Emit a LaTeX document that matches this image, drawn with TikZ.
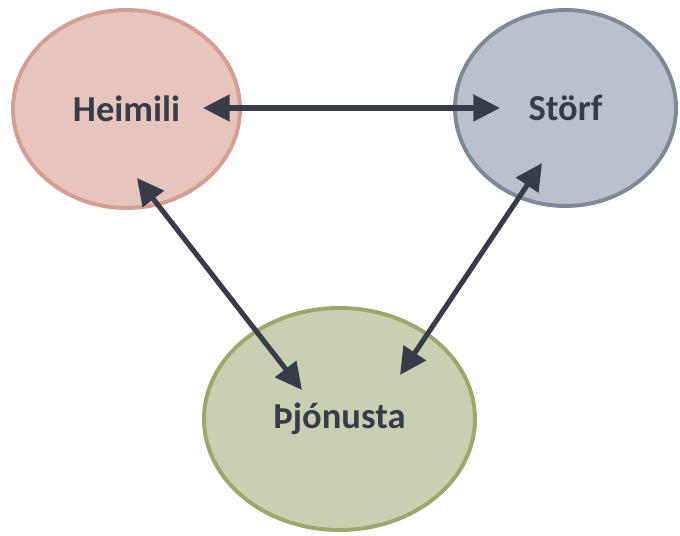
\documentclass[tikz,border=0pt]{standalone}
\usepackage{fontspec}
\setmainfont{Carlito}
\usetikzlibrary{arrows.meta,shapes.geometric}
\definecolor{testo}{HTML}{373D48}
\definecolor{rosa}{HTML}{E6C5BD}
\definecolor{rosabordo}{HTML}{D59E92}
\definecolor{grigio}{HTML}{BBC1CA}
\definecolor{grigiobordo}{HTML}{7E8899}
\definecolor{verde}{HTML}{CBCFB1}
\definecolor{verdebordo}{HTML}{9BA86C}
\tikzset{
>={Triangle[length=19pt,width=18.5pt]},
main node/.style={ellipse,inner sep=0pt,line width=2.8pt,text=testo,font=\fontsize{26}{30}\selectfont\bfseries},
freccia/.style={<->,line width=3.6pt,draw=testo}}

\begin{document}
\begin{tikzpicture}
\useasboundingbox (0,0) rectangle (17,13.4);

\node[main node,fill=rosa,draw=rosabordo,minimum width=5.675cm,minimum height=4.95cm] (1) at (3.1625,10.675) {Heimili};
\node[main node,fill=grigio,draw=grigiobordo,minimum width=5.525cm,minimum height=4.9cm] (2) at (14.1375,10.7) {Störf};
\node[main node,fill=verde,draw=verdebordo,minimum width=6.775cm,minimum height=5.55cm] (3) at (8.4875,2.925) {Þjónusta};

\coordinate (12) at ([shift={(1.9125,0.025)}]1.center);
\coordinate (21) at ([shift={(-1.6375,0)}]2.center);
\coordinate (13) at ([shift={(0.2625,-1.725)}]1.center);
\coordinate (31) at ([shift={(-0.9375,0.725)}]3.center);
\coordinate (23) at ([shift={(-0.5875,-1.375)}]2.center);
\coordinate (32) at ([shift={(1.5125,1.1)}]3.center);

\draw[freccia] (12) -- (21);
\draw[freccia] (13) -- (31);
\draw[freccia] (23) -- (32);

\end{tikzpicture}
\end{document}
